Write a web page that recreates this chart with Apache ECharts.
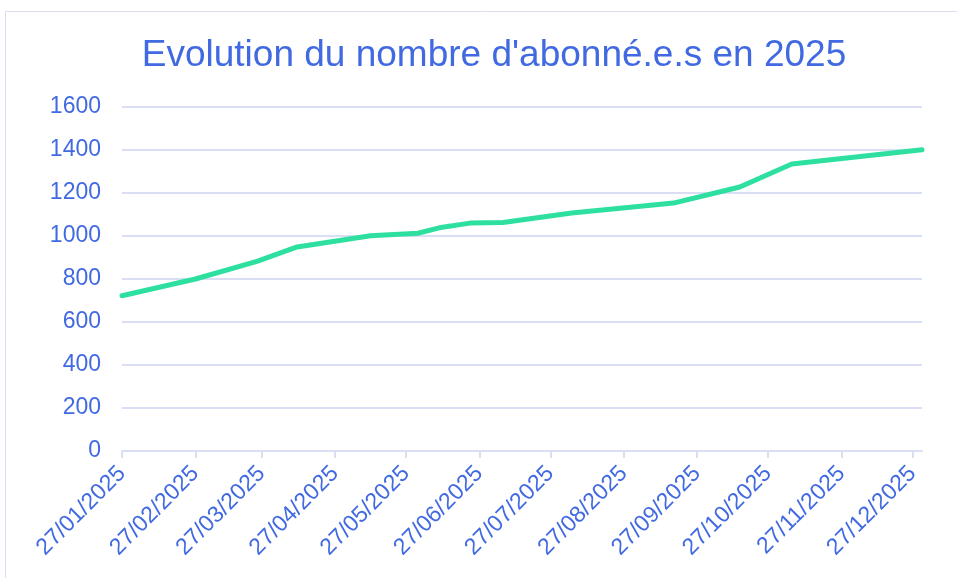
<!DOCTYPE html>
<html>
<head>
<meta charset="utf-8">
<script src="https://cdn.jsdelivr.net/npm/echarts@6/dist/echarts.min.js"></script>
<style>
html,body{margin:0;padding:0;background:#fff;}
#chart{width:957px;height:578px;}
</style>
</head>
<body>
<div id="chart"></div>
<script>
const titleText = "Evolution du nombre d'abonné.e.s en 2025";
const dates = ['2025-01-27','2025-02-27','2025-03-25','2025-04-11','2025-05-12','2025-06-01','2025-06-10','2025-06-23','2025-07-07','2025-08-05','2025-09-17','2025-10-15','2025-11-06','2025-12-31'];
const subscribers = [722, 800, 882, 949, 1001, 1013, 1038, 1060, 1063, 1107, 1153, 1228, 1335, 1401];
const tickDates = ['2025-01-27','2025-02-27','2025-03-27','2025-04-27','2025-05-27','2025-06-27','2025-07-27','2025-08-27','2025-09-27','2025-10-27','2025-11-27','2025-12-27'];
const axisStart = '2025-01-27';
const axisEnd = '2025-12-31';
const yTicks = [0, 200, 400, 600, 800, 1000, 1200, 1400, 1600];

function toTs(s){ const p = s.split('-').map(Number); return new Date(p[0], p[1]-1, p[2]).getTime(); }
function pad(n){ return (n < 10 ? '0' : '') + n; }
function fmt(v){ const d = new Date(v); return pad(d.getDate()) + '/' + pad(d.getMonth()+1) + '/' + d.getFullYear(); }

const blue = '#4169E1';
const gridCol = '#D9DEF5';
const font = 'Liberation Sans, Arial, sans-serif';
const tickTs = tickDates.map(toTs);

const chart = echarts.init(document.getElementById('chart'), null, {renderer:'canvas'});
chart.setOption({
  animation: false,
  backgroundColor: '#fff',
  graphic: [{
    type: 'rect', silent: true,
    shape: {x: 5.5, y: 11.5, width: 1000, height: 700},
    style: {fill: 'none', stroke: gridCol, lineWidth: 1}
  }],
  title: {
    text: titleText,
    left: 489, top: 32, textAlign: 'center',
    textStyle: {color: blue, fontFamily: font, fontSize: 37, fontWeight: 'normal'}
  },
  grid: {left: 122, right: 35, top: 107, bottom: 127, containLabel: false},
  xAxis: {
    type: 'value',
    min: toTs(axisStart), max: toTs(axisEnd),
    axisLine: {show: true, lineStyle: {color: gridCol, width: 2}},
    axisTick: {show: true, customValues: tickTs, length: 7, lineStyle: {color: gridCol, width: 2}},
    axisLabel: {
      customValues: tickTs, rotate: 45, margin: 19,
      color: blue, fontFamily: font, fontSize: 23,
      formatter: function(v){ return fmt(v); }
    },
    splitLine: {show: false}
  },
  yAxis: {
    type: 'value', min: yTicks[0], max: yTicks[yTicks.length-1], interval: yTicks[1]-yTicks[0],
    axisLine: {show: false}, axisTick: {show: false},
    axisLabel: {color: blue, fontFamily: font, fontSize: 23, margin: 21, formatter: function(v){ return String(v); }},
    splitLine: {lineStyle: {color: gridCol, width: 2}}
  },
  series: [{
    type: 'line',
    data: dates.map((d, i) => [toTs(d), subscribers[i]]),
    showSymbol: false, symbol: 'none',
    lineStyle: {color: '#2EE09F', width: 5, cap: 'round', join: 'round'},
    smooth: false
  }]
});
</script>
</body>
</html>
